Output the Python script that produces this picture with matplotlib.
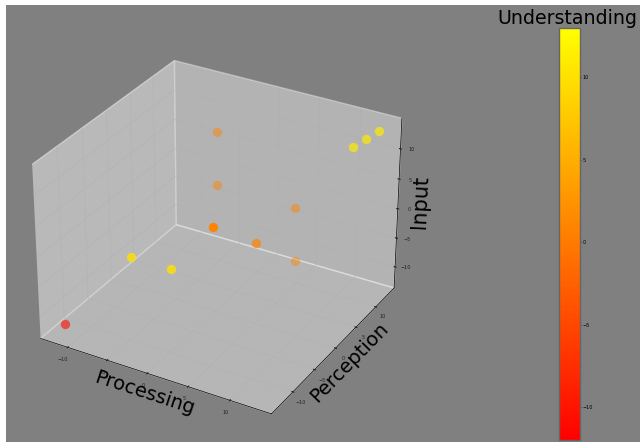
"""Learning style scores, 3D scatter with colorbar."""
import matplotlib
matplotlib.use("Agg")
import matplotlib.pyplot as plt
from matplotlib.patches import Rectangle

processing = [-11.95, -8.2, -5.6, -5, -0.3, 4.2, 3.5, -2.7, -3.3, 11, 11.45, 12.3]
perception = [-12.3, -4.2, 0, 8.5, 10, 11, 12.3, 5.3, 6.4, 11, 13.3, 14.8]
input_score = [-12.4, -4.8, -8.7, -6.7, -8.7, -10.7, -2.7, 3.3, 11.3, 11.2, 11.3, 12]
understanding = [-11, 10, 10, 1, 1, 1, 1, 1, 1, 11, 11, 11]
# the original fades points with depth, matched here by hand
point_alpha = [0.6, 0.8, 0.8, 1, 0.7, 0.45, 0.5, 0.5, 0.5, 0.7, 0.7, 0.7]

ticks = [-10, -5, 0, 5, 10]
BG = "#808080"

fig = plt.figure(figsize=(6.4, 4.42), dpi=100, facecolor="white")
fig.add_artist(Rectangle((6 / 640, 0), 634 / 640, 437 / 442, transform=fig.transFigure,
                         facecolor=BG, edgecolor="none", zorder=-1))

ax = fig.add_axes([-0.021, 0.005, 0.714, 0.93], projection="3d")
ax.patch.set_alpha(0)
for x, y, z, u, a in zip(processing, perception, input_score, understanding, point_alpha):
    sc = ax.scatter([x], [y], [z], c=[u], cmap="autumn", vmin=-12, vmax=13, s=45,
                    linewidths=0, depthshade=False, alpha=a)
ax.set_xlim(-13.5, 14.9)
ax.set_ylim(-14.8, 14.8)
ax.set_zlim(-13.7, 15)
ax.set_xticks(ticks)
ax.set_yticks(ticks)
ax.set_zticks(ticks)
ax.tick_params(labelsize=3.5, pad=-3, colors="#222222", width=0.4)
for axis in (ax.xaxis, ax.yaxis, ax.zaxis):
    axis._axinfo["grid"]["linewidth"] = 0.3
    axis._axinfo["tick"]["inward_factor"] = 0.05
    axis._axinfo["tick"]["outward_factor"] = 0.05
    axis.line.set_linewidth(0.5)
ax.set_xlabel("Processing", fontsize=14, labelpad=-12)
ax.set_ylabel("Perception", fontsize=14, labelpad=-12)
ax.set_zlabel("Input", fontsize=15, labelpad=-11)

cax = fig.add_axes([559 / 640, 2 / 442, 21 / 640, 412 / 442])
cb = fig.colorbar(plt.cm.ScalarMappable(norm=sc.norm, cmap="autumn"), cax=cax, ticks=ticks)
cb.ax.tick_params(labelsize=3.5, length=1, width=0.5, pad=1)
cb.outline.set_edgecolor("#666666")
cb.outline.set_linewidth(1)
cax.set_title("Understanding", fontsize=13.7, pad=1, x=0.4)

fig.savefig("out.png", dpi=100)
